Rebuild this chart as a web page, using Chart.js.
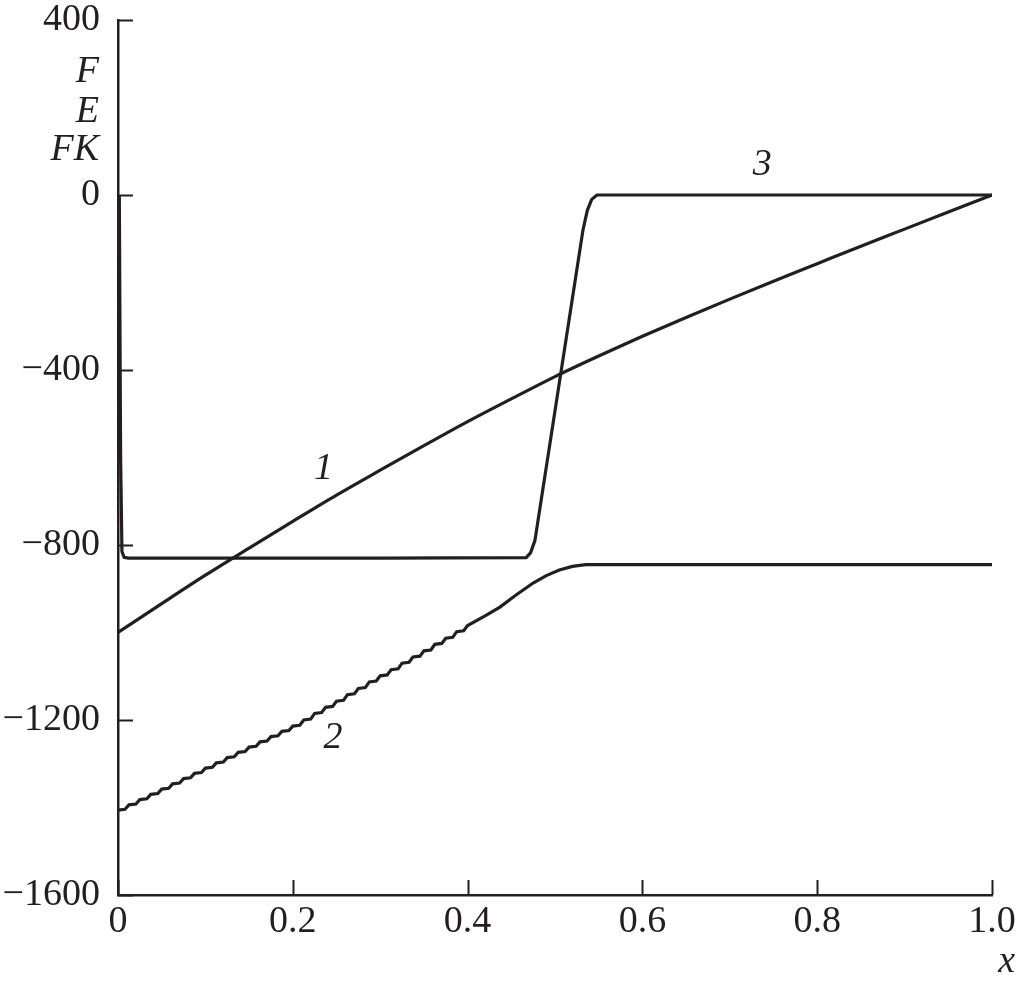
<!DOCTYPE html>
<html>
<head>
<meta charset="utf-8">
<script src="https://cdn.jsdelivr.net/npm/chart.js@4/dist/chart.umd.min.js"></script>
<style>
html,body{margin:0;padding:0;background:#fff;}
#wrap{position:relative;width:1018px;height:983px;}
</style>
</head>
<body>
<div id="wrap"><canvas id="c" width="1018" height="983"></canvas></div>
<script>
// ---- data ----
const xTicks = [0, 0.2, 0.4, 0.6, 0.8, 1.0];
const xTickLabels = ["0", "0.2", "0.4", "0.6", "0.8", "1.0"];
const yTicks = [-1600, -1200, -800, -400, 0, 400];
const yTickLabels = ["\u22121600", "\u22121200", "\u2212800", "\u2212400", "0", "400"];
const axisLabelsY = ["F", "E", "FK"];
const axisLabelX = "x";
const curveNames = ["1", "2", "3"];

// curve 1
const x1 = [0, 0.05, 0.1, 0.15, 0.2, 0.25, 0.3, 0.35, 0.4, 0.45, 0.5, 0.55, 0.6, 0.65, 0.7, 0.75, 0.8, 0.85, 0.9, 0.95, 1.0];
const y1 = [-1000, -934, -869, -807, -746, -686, -629, -573, -518, -466, -415, -368, -323, -280, -238, -197, -157, -117, -78, -39, 0];

// curve 2 (stepped, wavy rise, then plateau)
const x2 = [0, 0.008, 0.0125, 0.0205, 0.025, 0.033, 0.0375, 0.0455, 0.05, 0.058, 0.0625, 0.0705, 0.075, 0.083, 0.0875, 0.0955,
  0.1, 0.108, 0.1125, 0.1205, 0.125, 0.133, 0.1375, 0.1455, 0.15, 0.158, 0.1625, 0.1705, 0.175, 0.183, 0.1875, 0.1955,
  0.2, 0.208, 0.2125, 0.2205, 0.225, 0.233, 0.2375, 0.2455, 0.25, 0.258, 0.2625, 0.2705, 0.275, 0.283, 0.2875, 0.2955,
  0.3, 0.308, 0.3125, 0.3205, 0.325, 0.333, 0.3375, 0.3455, 0.35, 0.358, 0.3625, 0.3705, 0.375, 0.383, 0.3875, 0.3955,
  0.4, 0.42, 0.437, 0.455, 0.475, 0.49, 0.505, 0.52, 0.535, 0.56, 1.0];
const y2 = [-1406, -1404, -1394, -1392, -1382, -1380, -1370, -1368, -1358, -1356, -1346, -1344, -1334, -1332, -1322, -1320,
  -1310, -1308, -1298, -1296, -1286, -1284, -1274, -1272, -1262, -1260, -1250, -1248, -1238, -1236, -1226, -1224,
  -1214, -1212, -1200, -1198, -1185, -1183, -1171, -1169, -1157, -1155, -1142, -1140, -1128, -1126, -1113, -1111,
  -1099, -1097, -1085, -1083, -1070, -1068, -1056, -1054, -1042, -1040, -1027, -1025, -1013, -1011, -998, -996,
  -984, -962, -942, -915, -887, -870, -857, -849, -845, -845, -845];

// curve 3
const x3 = [0.0015, 0.003, 0.0045, 0.007, 0.012, 0.3, 0.467, 0.472, 0.477, 0.532, 0.537, 0.542, 0.548, 0.56, 1.0];
const y3 = [0, -600, -815, -828, -830, -830, -829, -818, -790, -80, -35, -10, 0, 0, 0];

const LINE = '#231f20';
const FONT = '"Liberation Serif", "DejaVu Serif", serif';

function pts(xs, ys) { return xs.map((x, i) => ({x: x, y: ys[i]})); }

const overlay = {
  id: 'overlay',
  afterDraw(chart) {
    const ctx = chart.ctx;
    const xs = chart.scales.x, ys = chart.scales.y;
    const a = chart.chartArea;
    ctx.save();
    ctx.strokeStyle = LINE;
    ctx.lineWidth = 2;
    ctx.beginPath();
    yTicks.forEach(v => {
      const py = Math.round(ys.getPixelForValue(v)) + 0.5;
      ctx.moveTo(a.left, py); ctx.lineTo(a.left + 15, py);
    });
    xTicks.forEach(v => {
      const px = Math.round(xs.getPixelForValue(v)) + 0.5;
      ctx.moveTo(px, a.bottom); ctx.lineTo(px, a.bottom - 15);
    });
    ctx.stroke();
    ctx.fillStyle = LINE;
    ctx.font = 'italic 38px ' + FONT;
    ctx.textAlign = 'right';
    ctx.textBaseline = 'alphabetic';
    const yl = [82, 122, 160];
    axisLabelsY.forEach((t, i) => ctx.fillText(t, 99, yl[i]));
    ctx.fillText(axisLabelX, 1015, 972);
    ctx.textAlign = 'center';
    ctx.fillText(curveNames[0], xs.getPixelForValue(0.235), ys.getPixelForValue(-650));
    ctx.fillText(curveNames[1], xs.getPixelForValue(0.246), ys.getPixelForValue(-1265));
    ctx.fillText(curveNames[2], xs.getPixelForValue(0.737), ys.getPixelForValue(45));
    ctx.restore();
  }
};

new Chart(document.getElementById('c'), {
  type: 'scatter',
  data: {
    datasets: [
      {data: pts(x1, y1), showLine: true, borderColor: LINE, borderWidth: 3.2, pointRadius: 0, tension: 0.3, cubicInterpolationMode: 'monotone', fill: false},
      {data: pts(x2, y2), showLine: true, borderColor: LINE, borderWidth: 3.2, pointRadius: 0, tension: 0, fill: false},
      {data: pts(x3, y3), showLine: true, borderColor: LINE, borderWidth: 3.2, pointRadius: 0, tension: 0, fill: false}
    ]
  },
  options: {
    responsive: false,
    animation: false,
    layout: {padding: {top: 20, right: 26, left: 0, bottom: 0}},
    plugins: {legend: {display: false}, tooltip: {enabled: false}},
    scales: {
      x: {
        type: 'linear', min: 0, max: 1,
        grid: {display: false, drawTicks: false},
        border: {display: true, color: LINE, width: 2.5},
        afterBuildTicks(s) { s.ticks = xTicks.map(v => ({value: v})); },
        afterFit(s) { s.height = 88; s.paddingLeft = 0; s.paddingRight = 0; },
        ticks: {
          padding: 4, color: LINE, font: {family: FONT, size: 38},
          maxRotation: 0, autoSkip: false,
          callback: (v, i) => xTickLabels[i]
        }
      },
      y: {
        type: 'linear', min: -1600, max: 400,
        grid: {display: false, drawTicks: false},
        border: {display: true, color: LINE, width: 2.5},
        afterBuildTicks(s) { s.ticks = yTicks.map(v => ({value: v})); },
        afterFit(s) { s.width = 118; s.paddingTop = 0; s.paddingBottom = 0; },
        ticks: {
          padding: 18, color: LINE, font: {family: FONT, size: 38},
          autoSkip: false,
          callback: (v, i) => yTickLabels[i]
        }
      }
    }
  },
  plugins: [overlay]
});
</script>
</body>
</html>
